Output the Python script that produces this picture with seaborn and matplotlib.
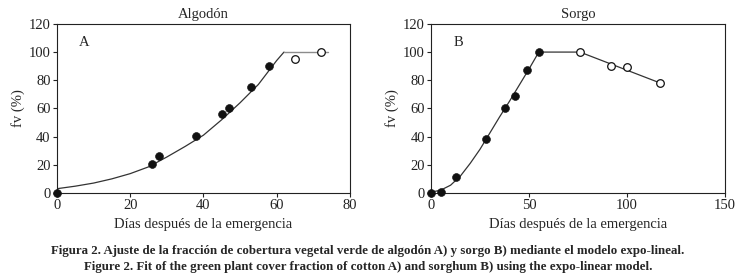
import numpy as np
import pandas as pd
import seaborn as sns
import matplotlib.pyplot as plt

# Algodon (cotton) observations
alg_x_fill = [0, 26, 28, 38, 45, 47, 53, 58]
alg_y_fill = [0, 20.5, 26, 40.5, 56, 60.5, 75.5, 90]
alg_x_open = [65, 72]
alg_y_open = [95, 100]
# fitted expo-linear curve
alg_curve_x = [0, 5, 10, 15, 20, 25, 30, 35, 40, 45, 50, 55, 60, 62]
alg_curve_y = [3, 4.8, 7, 10, 13.7, 18.5, 25.5, 33, 41, 52, 64, 77, 94, 100]
alg_flat_x = [62, 74]
alg_flat_y = [100, 100]

# Sorgo (sorghum) observations
sor_x_fill = [0, 5, 13, 28, 38, 43, 49, 55]
sor_y_fill = [0, 0.5, 11, 38.5, 60, 68.5, 87.5, 100]
sor_x_open = [76, 92, 100, 117]
sor_y_open = [100, 90, 89.5, 78]
sor_curve_x = [0, 5, 10, 15, 20, 25, 30, 35, 40, 45, 50, 55, 76, 117]
sor_curve_y = [0.5, 2, 5.5, 12, 21, 31, 42.5, 54, 65, 76.5, 88, 100, 100, 78]

sns.set_theme(style='ticks')
plt.rcParams['font.family'] = ['Liberation Serif', 'DejaVu Serif']

fig = plt.figure(figsize=(7.36, 2.78), dpi=100)
ax1 = fig.add_axes([0.0774, 0.306, 0.398, 0.608])
ax2 = fig.add_axes([0.5856, 0.306, 0.3995, 0.608])

panels = [
    (ax1, 'Algodón', 'A', 6, [0, 80], [0, 20, 40, 60, 80],
     alg_curve_x, alg_curve_y, alg_x_fill, alg_y_fill, alg_x_open, alg_y_open),
    (ax2, 'Sorgo', 'B', 11.5, [0, 150], [0, 50, 100, 150],
     sor_curve_x, sor_curve_y, sor_x_fill, sor_y_fill, sor_x_open, sor_y_open),
]

for ax, title, tag, tx, xlim, xt, cx, cy, fx, fy, ox, oy in panels:
    sns.lineplot(x=cx, y=cy, ax=ax, color='#333333', linewidth=0.9, sort=False)
    sns.scatterplot(x=fx, y=fy, ax=ax, color='#111111', s=32, edgecolor='#111111',
                    zorder=3, clip_on=False)
    sns.scatterplot(x=ox, y=oy, ax=ax, color='white', s=30, edgecolor='#111111',
                    linewidth=0.9, zorder=3, clip_on=False)
    ax.set_xlim(xlim)
    ax.set_ylim(0, 120)
    ax.set_xticks(xt)
    ax.set_yticks([0, 20, 40, 60, 80, 100, 120])
    ax.tick_params(labelsize=10.5, length=3, width=0.8, pad=1.5, colors='#222222')
    for s in ax.spines.values():
        s.set_linewidth(0.8)
        s.set_color('#222222')
    ax.set_title(title, fontsize=10.5, pad=4)
    ax.set_xlabel('Días después de la emergencia', fontsize=10.5, labelpad=4)
    ax.set_ylabel('fv (%)', fontsize=10.5, labelpad=3)
    ax.text(tx, 107, tag, fontsize=10.5, va='center')

sns.lineplot(x=alg_flat_x, y=alg_flat_y, ax=ax1, color='#8c8c8c', linewidth=1.0)

fig.text(0.5, 0.097, 'Figura 2. Ajuste de la fracción de cobertura vegetal verde de algodón A) y sorgo B) mediante el modelo expo-lineal.',
         ha='center', va='center', fontsize=9.3, fontweight='bold')
fig.text(0.5, 0.039, 'Figure 2. Fit of the green plant cover fraction of cotton A) and sorghum B) using the expo-linear model.',
         ha='center', va='center', fontsize=9.3, fontweight='bold')

fig.savefig('out.png', dpi=100)
